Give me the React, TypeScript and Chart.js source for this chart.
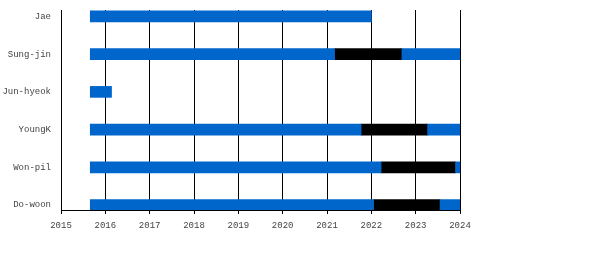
import React, { useEffect, useRef } from "react";
import { Chart, registerables } from "chart.js";

Chart.register(...registerables);

const members = ["Jae", "Sung-jin", "Jun-hyeok", "YoungK", "Won-pil", "Do-woon"];

const activeMember = [0, 1, 1, 2, 3, 3, 4, 4, 5, 5];
const activeStart = [2015.66, 2015.66, 2022.69, 2015.66, 2015.66, 2023.27, 2015.66, 2023.9, 2015.66, 2023.55];
const activeEnd = [2022.0, 2021.17, 2024, 2016.14, 2021.77, 2024, 2022.22, 2024, 2022.05, 2024];

const militaryMember = [1, 3, 4, 5];
const militaryStart = [2021.17, 2021.77, 2022.22, 2022.05];
const militaryEnd = [2022.69, 2023.27, 2023.9, 2023.55];

const xMin = 2015;
const xMax = 2024;

const FONT = "'Liberation Mono', 'DejaVu Sans Mono', monospace";

export default function App() {
  const ref = useRef<HTMLCanvasElement>(null);

  useEffect(() => {
    document.body.style.margin = "0";
    const ctx = ref.current!.getContext("2d")!;
    const chart = new Chart(ctx, {
      type: "bar",
      data: {
        datasets: [
          {
            label: "Active",
            data: activeMember.map((m, i) => ({ x: [activeStart[i], activeEnd[i]], y: m })) as any,
            backgroundColor: "#0066cc",
            borderWidth: 0,
            barThickness: 11,
            grouped: false,
          } as any,
          {
            label: "Military service",
            data: militaryMember.map((m, i) => ({ x: [militaryStart[i], militaryEnd[i]], y: m })) as any,
            backgroundColor: "#000000",
            borderWidth: 0,
            barThickness: 11,
            grouped: false,
          } as any,
        ],
      },
      options: {
        indexAxis: "y",
        animation: false,
        responsive: false,
        maintainAspectRatio: false,
        layout: { padding: { top: 10, right: 140, left: 0, bottom: 0 } },
        plugins: { legend: { display: false }, tooltip: { enabled: false } },
        scales: {
          x: {
            type: "linear",
            position: "bottom",
            min: xMin,
            max: xMax,
            offset: false,
            grid: { color: "#000", lineWidth: 1, drawTicks: true, tickLength: 4, tickColor: "#000", offset: false },
            border: { display: true, color: "#000", width: 1 },
            ticks: {
              stepSize: 1,
              padding: 6,
              color: "#444",
              font: { family: FONT, size: 9 },
              callback: (v: any) => String(v),
              maxRotation: 0,
            },
            afterFit: (s: any) => {
              s.height = 65;
            },
          },
          y: {
            type: "linear",
            reverse: true,
            min: -0.17,
            max: 5.13,
            offset: false,
            grid: { display: false, offset: false },
            border: { display: true, color: "#000", width: 1 },
            afterBuildTicks: (s: any) => {
              s.ticks = members.map((_, i) => ({ value: i }));
            },
            ticks: {
              padding: 2,
              color: "#444",
              font: { family: FONT, size: 9 },
              callback: (v: any) => members[v as number] ?? "",
            },
            afterFit: (s: any) => {
              s.width = 61;
            },
          },
        },
      } as any,
    });
    return () => chart.destroy();
  }, []);

  return (
    <div style={{ width: 600, height: 275 }}>
      <canvas ref={ref} width={600} height={275} style={{ display: "block" }} />
    </div>
  );
}
